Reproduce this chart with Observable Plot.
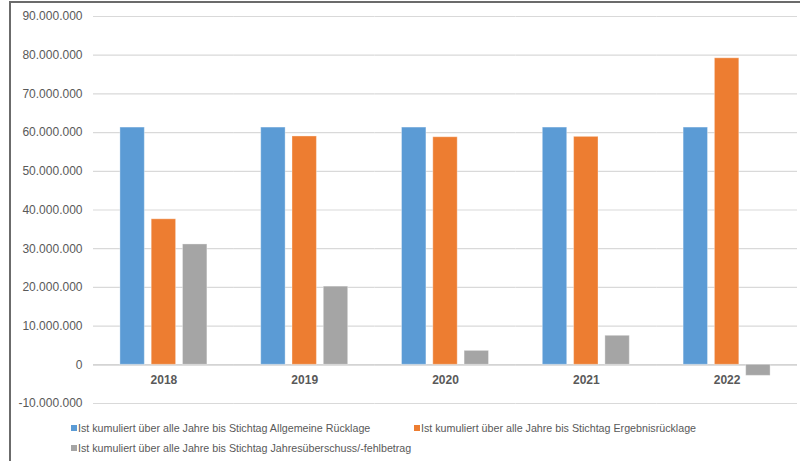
<!DOCTYPE html>
<html>
<head>
<meta charset="utf-8">
<script src="https://cdn.jsdelivr.net/npm/d3@7"></script>
<script src="https://cdn.jsdelivr.net/npm/@observablehq/plot@0.6"></script>
<style>
  html, body { margin: 0; padding: 0; background: #fff; }
  #frame {
    position: absolute; left: 9px; top: 1px; width: 789px; height: 470px;
    border-left: 2px solid #6b6b6b; border-top: 2px solid #6b6b6b;
    font-family: "Liberation Sans", Arial, sans-serif;
  }
  #chart svg { display: block; }
  #legend {
    display: grid; grid-template-columns: 343px auto; row-gap: 0;
    padding-left: 60px; padding-top: 3px;
    font-size: 10.7px; color: #595959; line-height: 20px;
  }
  .item { display: flex; align-items: center; white-space: nowrap; }
  .sw { width: 6px; height: 6px; margin-right: 1px; display: inline-block; }
</style>
</head>
<body>
<div id="frame">
  <div id="chart"></div>
  <div id="legend"></div>
</div>
<script>
const years = ["2018", "2019", "2020", "2021", "2022"];
const seriesNames = [
  "Ist kumuliert über alle Jahre bis Stichtag Allgemeine Rücklage",
  "Ist kumuliert über alle Jahre bis Stichtag Ergebnisrücklage",
  "Ist kumuliert über alle Jahre bis Stichtag Jahresüberschuss/-fehlbetrag"
];
const allgemeineRuecklage = [61300000, 61300000, 61300000, 61300000, 61300000];
const ergebnisRuecklage = [37600000, 59000000, 58800000, 58900000, 79200000];
const jahresueberschuss = [31100000, 20200000, 3600000, 7500000, -2850000];
const seriesColors = ["#5B9BD5", "#ED7D31", "#A5A5A5"];
const yTicks = [-10000000, 0, 10000000, 20000000, 30000000, 40000000, 50000000, 60000000, 70000000, 80000000, 90000000];

const seriesValues = [allgemeineRuecklage, ergebnisRuecklage, jahresueberschuss];
const data = [];
years.forEach((yr, i) => {
  seriesNames.forEach((s, j) => data.push({year: yr, series: s, value: seriesValues[j][i]}));
});

const de = d3.formatLocale({decimal: ",", thousands: ".", grouping: [3], currency: ["", " €"], minus: "-"});
const fmt = de.format(",.0f");

const chart = Plot.plot({
  width: 789,
  height: 412,
  marginLeft: 82,
  marginRight: 3,
  marginTop: 13,
  marginBottom: 12,
  style: {fontFamily: "Liberation Sans, Arial, sans-serif", background: "#fff"},
  fx: {domain: years, padding: 0, round: false, axis: null},
  x: {domain: seriesNames, paddingInner: 0.22, paddingOuter: 0.86, round: false, axis: null},
  y: {domain: [-10000000, 90000000], axis: null},
  color: {domain: seriesNames, range: seriesColors},
  marks: [
    Plot.gridY(yTicks, {stroke: "#d9d9d9", strokeOpacity: 1, strokeWidth: 1.2}),
    Plot.ruleY([0], {stroke: "#cfcfcf", strokeWidth: 1.2}),
    Plot.axisY(yTicks, {tickSize: 0, tickPadding: 11, tickFormat: fmt, fontSize: 12, fill: "#595959", label: null}),
    Plot.barY(data, {fx: "year", x: "series", y: "value", fill: "series", stroke: "#ffffff", strokeOpacity: 0.35, strokeWidth: 1}),
    Plot.text(years, {fx: d => d, y: () => 0, text: d => d, dy: 15, fontSize: 12, fontWeight: "bold", fill: "#595959"})
  ]
});
document.getElementById("chart").appendChild(chart);

const legend = document.getElementById("legend");
seriesNames.forEach((s, j) => {
  const it = document.createElement("div");
  it.className = "item";
  const sw = document.createElement("span");
  sw.className = "sw";
  sw.style.background = seriesColors[j];
  it.appendChild(sw);
  it.appendChild(document.createTextNode(s));
  legend.appendChild(it);
});
</script>
</body>
</html>
